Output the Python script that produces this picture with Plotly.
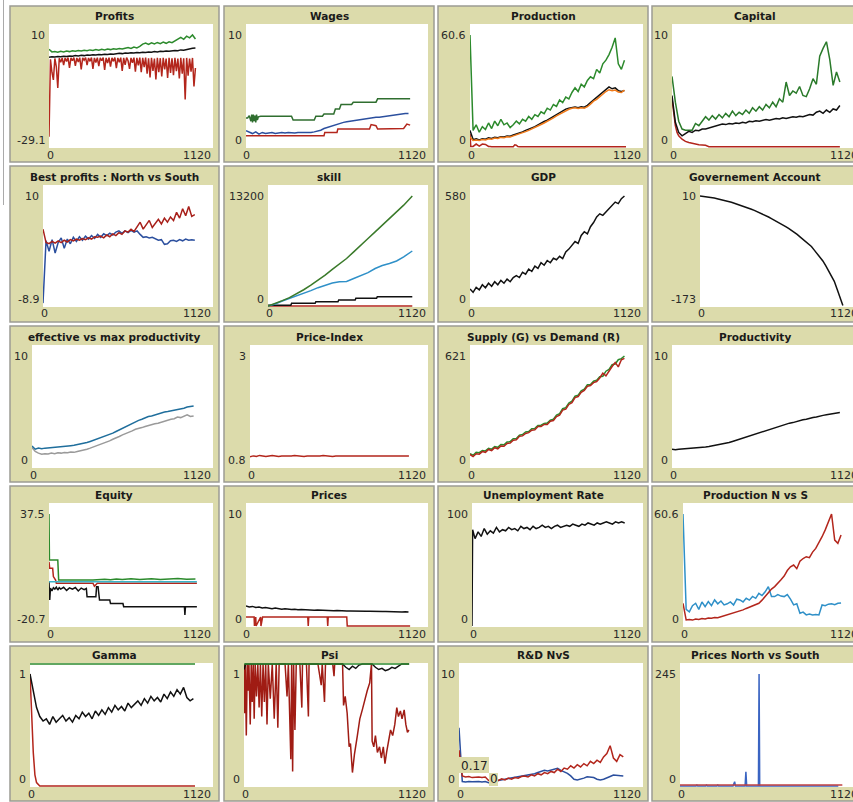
import plotly.graph_objects as go

W, H = 853, 802

# ---------------- data ----------------
X51 = [0, 20, 40, 60, 80, 100, 120, 140, 160, 180, 200, 220, 240, 260, 280, 300, 320, 340, 360, 380,
       400, 420, 440, 460, 480, 500, 520, 540, 560, 580, 600, 620, 640, 660, 680, 700, 720, 740, 760, 780,
       800, 820, 840, 860, 880, 900, 920, 940, 960, 980, 1000]
X101 = [0, 10, 20, 30, 40, 50, 60, 70, 80, 90, 100, 110, 120, 130, 140, 150, 160, 170, 180, 190,
        200, 210, 220, 230, 240, 250, 260, 270, 280, 290, 300, 310, 320, 330, 340, 350, 360, 370, 380, 390,
        400, 410, 420, 430, 440, 450, 460, 470, 480, 490, 500, 510, 520, 530, 540, 550, 560, 570, 580, 590,
        600, 610, 620, 630, 640, 650, 660, 670, 680, 690, 700, 710, 720, 730, 740, 750, 760, 770, 780, 790,
        800, 810, 820, 830, 840, 850, 860, 870, 880, 890, 900, 910, 920, 930, 940, 950, 960, 970, 980, 990, 1000]
X_TICKS = ["0", "1120"]

# Profits
PROF_GREEN = [5.0, 4.1, 4.2, 4.0, 4.3, 4.1, 4.4, 4.2, 4.5, 4.3, 4.6, 4.4, 4.7, 4.5, 4.8, 4.6, 4.9, 4.7, 5.0, 4.8,
              5.1, 4.9, 5.2, 5.0, 5.3, 5.1, 5.4, 5.6, 5.3, 5.8, 5.5, 6.0, 6.8, 7.2, 6.7, 7.3, 6.9, 7.4, 7.0, 7.5,
              7.1, 7.6, 7.3, 8.0, 8.6, 9.2, 8.5, 9.6, 9.0, 10.0, 8.6]
PROF_BLACK = [2.2, 2.4, 2.3, 2.5, 2.4, 2.6, 2.5, 2.7, 2.6, 2.8, 2.7, 2.9, 2.8, 3.0, 2.9, 3.1, 3.0, 3.2, 3.1, 3.3,
              3.2, 3.4, 3.3, 3.5, 3.6, 3.5, 3.7, 3.6, 3.8, 3.7, 3.9, 3.8, 4.0, 3.9, 4.1, 4.0, 4.2, 4.1, 4.3, 4.2,
              4.4, 4.3, 4.5, 4.6, 4.5, 4.8, 4.7, 5.0, 5.2, 5.4, 5.5]
PROF_RED = [-25.5, 1.5, -3, -5.7, 1.8, -1.0, -8.5, 1.9, 0.5, 2.0,
            -0.5, 2.0, 0.8, 2.1, -1.5, 2.0, 1.0, 2.1, -0.8, 2.0,
            0.6, 2.1, -2.0, 2.0, 1.2, 2.1, -0.5, 2.0, 0.8, 2.1,
            -1.8, 2.0, 0.4, 2.1, -0.9, 2.0, 1.0, 2.1, -2.2, 2.0,
            0.2, 2.1, -1.0, 2.0, 0.8, 2.1, -1.6, 2.0, 0.5, 2.1,
            -2.5, 2.0, -0.4, 2.1, 1.0, -1.8, 2.0, 0.3, 2.1, -2.8,
            2.0, -0.6, 2.1, -3.0, 2.0, -1.2, 2.1, -3.5, 1.9, -4.8,
            2.0, -2.5, 1.8, -5.5, 2.0, -3.0, 1.9, -4.5, 2.0, -2.0,
            1.8, -5.0, 2.0, -3.2, 1.9, -4.0, 2.0, -2.6, 1.8, -5.2,
            2.0, -3.5, 1.9, -12.5, 2.0, -4.2, 1.8, -2.8, 2.0, -8.0,
            -1.5]

# Wages
WAGE_GX = [0, 10, 20, 30, 35, 40, 45, 50, 55, 60, 65, 70, 76, 90, 280, 290, 420, 430, 470, 480,
           540, 550, 575, 585, 650, 660, 800, 810, 1010]
WAGE_GY = [2.6, 2.6, 2.8, 2.3, 2.9, 2.2, 2.9, 2.3, 2.8, 2.2, 2.9, 2.4, 2.7, 2.75, 2.75, 2.4, 2.4, 2.75, 2.75, 2.95,
           2.95, 3.4, 3.4, 3.8, 3.8, 4.0, 4.0, 4.3, 4.3]
WAGE_BLUE = [1.45, 1.3, 1.2, 1.35, 1.15, 1.3, 1.2, 1.25, 1.3, 1.2, 1.25, 1.3, 1.25, 1.3, 1.28, 1.25, 1.3, 1.3, 1.28, 1.32,
             1.3, 1.35, 1.4, 1.5, 1.65, 1.75, 1.8, 1.9, 2.0, 2.1, 2.2, 2.25, 2.3, 2.35, 2.4, 2.45, 2.5, 2.5, 2.55, 2.6,
             2.65, 2.65, 2.7, 2.75, 2.8, 2.85, 2.85, 2.9, 2.95, 3.0, 3.0]
WAGE_RX = [0, 480, 485, 560, 565, 760, 770, 800, 810, 970, 990, 1010]
WAGE_RY = [1.0, 1.0, 1.3, 1.3, 1.6, 1.6, 2.0, 1.9, 1.6, 1.65, 2.05, 1.95]

# Production
PROD_GREEN = [60.6, 9, 12, 8, 11, 9.5, 13, 10, 14, 11.5, 15, 12, 13, 10.5, 12, 14, 12.5, 15, 14, 16.5,
              15, 17.5, 16.5, 19, 18, 21, 20, 23, 22, 25.5, 24, 27, 26, 29.5, 32, 30, 34, 32.5, 36, 38,
              37, 42, 40, 45, 47, 50, 54, 59, 45, 42, 47]
PROD_BLACK = [9, 4, 4.5, 3.8, 4.5, 4.2, 5, 4.6, 5.3, 5, 5.6, 5.4, 6, 5.8, 6.5, 7, 7.5, 8.2, 9, 9.6,
              10.3, 11, 12, 13, 13.8, 14.5, 15.5, 16.5, 17.5, 18.5, 19.5, 20.5, 21, 21.5, 21.6, 21.2, 21.8, 21.5, 22.5, 24,
              25.5, 26.5, 28, 30, 31, 32.5, 31.5, 32, 30.5, 30, 30.5]
PROD_ORANGE = [5.4, 3.5, 3.8, 3.5, 4, 3.8, 4.4, 4.2, 4.8, 4.6, 5.2, 5, 5.5, 5.4, 6, 6.5, 7, 7.6, 8.3, 9,
               9.7, 10.4, 11.3, 12.2, 13, 13.8, 14.8, 15.8, 16.8, 17.8, 18.8, 19.8, 20.4, 21, 21.2, 20.8, 21.2, 21, 21.8, 23.2,
               24.8, 25.8, 27.2, 29, 30, 31, 30.5, 30.8, 29.8, 29.5, 30.8]
PROD_RX = [0, 5, 20, 40, 60, 80, 100, 120, 130, 140, 200, 280, 290, 300, 310, 320, 1010]
PROD_RY = [7, 0.3, 0.3, 1.6, 0.5, 1.6, 1.4, 0.3, 0.3, 0.2, 0.2, 0.2, 1.2, 1.0, 0.3, 0.1, 0.1]

# Capital
CAP_GREEN = [6.3, 4, 2.3, 1.6, 1.5, 1.5, 1.5, 2.1, 1.9, 2.3, 2.7, 2.4, 2.8, 2.5, 2.9, 2.6, 3.0, 2.7, 3.2, 2.8,
             3.1, 2.9, 3.3, 3.0, 3.5, 3.2, 3.6, 3.3, 3.8, 3.5, 4.0, 3.6, 4.3, 4.0, 5.8, 4.6, 5.0, 4.8, 5.4, 4.6,
             4.5, 5.2, 6.1, 5.6, 8.1, 8.8, 9.4, 7.8, 5.5, 6.7, 5.8]
CAP_BLACK = [4.6, 2.2, 1.3, 1.0, 1.2, 1.4, 1.3, 1.5, 1.45, 1.6, 1.6, 1.7, 1.8, 1.9, 2.0, 2.05, 2.0, 2.1, 2.05, 2.15,
             2.1, 2.2, 2.15, 2.3, 2.25, 2.35, 2.3, 2.4, 2.45, 2.4, 2.5, 2.55, 2.5, 2.6, 2.55, 2.65, 2.7, 2.65, 2.75, 2.7,
             2.8, 2.9, 2.85, 3.1, 3.2, 3.0, 3.3, 3.1, 3.4, 3.3, 3.7]
CAP_RX = [0, 10, 20, 30, 40, 60, 80, 100, 130, 160, 200, 220, 1000]
CAP_RY = [4.3, 3.0, 1.9, 1.3, 1.0, 0.7, 0.5, 0.4, 0.3, 0.2, 0.15, 0.03, 0.03]

# Best profits : North vs South
BP_BLUE = [-8.4, 2.3, 0.5, 2.5, 0.2, 2.0, 2.8, 1.0, 2.6, 1.8, 2.9, 2.2, 3.0, 2.4, 3.1, 2.6, 3.2, 2.7, 3.4, 2.9,
           3.5, 3.2, 3.6, 3.3, 3.8, 4.0, 3.6, 4.0, 3.7, 4.1, 3.8, 4.0, 3.4, 2.9, 3.0, 2.8, 2.9, 2.6, 2.4, 2.5,
           1.7, 1.8, 2.3, 2.4, 2.2, 2.5, 2.3, 2.6, 2.4, 2.5, 2.4]
BP_RED = [4.3, 2.0, 1.8, 2.2, 1.9, 2.3, 2.0, 2.4, 2.1, 2.5, 2.3, 2.6, 2.4, 2.7, 2.5, 2.8, 2.6, 3.0, 2.9, 3.1,
          2.8, 3.3, 3.0, 3.5, 3.2, 3.7, 3.4, 4.0, 3.8, 4.3, 3.9, 4.8, 5.5, 4.3, 5.0, 5.8, 4.6, 5.3, 6.0, 5.2,
          6.2, 5.5, 6.4, 5.8, 7.2, 6.2, 7.8, 6.6, 8.2, 6.5, 6.8]

# skill
SKILL_X = [0, 50, 100, 150, 200, 250, 300, 350, 400, 450, 500, 550, 600, 650, 700, 750, 800, 850, 900, 950, 1010]
SKILL_GREEN = [0, 300, 650, 1000, 1450, 1950, 2500, 3050, 3700, 4400, 5000, 5700, 6500, 7350, 8100, 8900, 9700,
               10500, 11300, 12100, 13200]
SKILL_BLUE = [0, 250, 600, 900, 1200, 1500, 1850, 2200, 2500, 2750, 2900, 2950, 3300, 3650, 4000, 4500, 4850,
              5100, 5400, 5900, 6600]
SKILL_KX = [0, 160, 165, 330, 335, 490, 495, 610, 615, 760, 765, 1010]
SKILL_KY = [100, 100, 320, 320, 520, 520, 720, 720, 920, 920, 1120, 1120]
SKILL_RX = [0, 1010]
SKILL_RY = [0, 0]

# GDP
GDP_BLACK = [90, 72, 98, 85, 112, 96, 120, 104, 128, 112, 135, 120, 142, 128, 150, 160, 150, 178, 168, 195,
             182, 210, 198, 228, 215, 240, 228, 252, 244, 262, 250, 285, 300, 322, 340, 330, 372, 392, 380, 418,
             440, 470, 486, 478, 497, 512, 530, 548, 540, 566, 580]

# Governement Account
GOV_BLACK = [10, 9.5, 9, 8.2, 7.5, 6.5, 5.5, 4.5, 3.5, 2.2, 1, -0.5, -2, -3.5, -5, -6.5, -8, -10, -12, -14,
             -16, -18, -20, -22.5, -25, -27.5, -30, -32.5, -35, -38, -41, -44, -47, -50, -54, -58, -62, -66, -70, -74,
             -80, -86, -92, -98, -106, -114, -122, -132, -145, -158, -172]

# effective vs max productivity
EFF_BLUE = [1.9, 1.6, 1.7, 1.65, 1.7, 1.72, 1.75, 1.78, 1.8, 1.82, 1.85, 1.9, 1.92, 1.95, 2.0, 2.05, 2.1, 2.2, 2.3, 2.4,
            2.5, 2.6, 2.7, 2.8, 2.95, 3.05, 3.2, 3.35, 3.5, 3.65, 3.8, 3.95, 4.1, 4.2, 4.3, 4.45, 4.55, 4.6, 4.7, 4.75,
            4.85, 4.95, 5.0, 5.05, 5.15, 5.2, 5.25, 5.3, 5.4, 5.45, 5.5]
EFF_GRAY = [1.75, 1.4, 1.25, 1.15, 1.2, 1.18, 1.25, 1.2, 1.28, 1.25, 1.3, 1.28, 1.35, 1.32, 1.4, 1.45, 1.5, 1.6, 1.7, 1.8,
            1.9, 2.0, 2.1, 2.2, 2.35, 2.5, 2.6, 2.75, 2.9, 3.0, 3.15, 3.25, 3.4, 3.45, 3.55, 3.65, 3.75, 3.8, 3.9, 3.95,
            4.05, 4.1, 4.2, 4.3, 4.35, 4.5, 4.45, 4.6, 4.7, 4.55, 4.6]

# Price-Index
PI_RED = [1.0, 1.02, 1.01, 1.03, 1.02, 1.01, 1.02, 1.03, 1.02, 1.01, 1.02, 1.02, 1.01, 1.02, 1.03, 1.02, 1.02, 1.01, 1.02, 1.02,
          1.01, 1.02, 1.02, 1.03, 1.02, 1.02, 1.01, 1.02, 1.02, 1.02, 1.01, 1.02, 1.02, 1.01, 1.02, 1.02, 1.02, 1.01, 1.02, 1.02,
          1.01, 1.02, 1.02, 1.02, 1.01, 1.02, 1.02, 1.01, 1.02, 1.02, 1.02]

# Supply (G) vs Demand (R)
SUP_GREEN = [75, 66, 82, 80, 92, 90, 104, 100, 114, 110, 126, 124, 140, 142, 158, 160, 178, 182, 196, 198,
             214, 216, 232, 234, 244, 246, 262, 268, 290, 298, 326, 332, 358, 368, 396, 402, 426, 436, 460, 462,
             480, 486, 505, 508, 536, 546, 572, 576, 600, 606, 621]
SUP_RED = [70, 58, 74, 72, 86, 82, 98, 92, 108, 102, 118, 116, 132, 134, 150, 152, 172, 174, 188, 192,
           206, 208, 226, 226, 238, 238, 256, 260, 282, 290, 318, 324, 350, 360, 388, 394, 418, 428, 452, 456,
           472, 478, 498, 525, 510, 540, 562, 585, 560, 600, 608]

# Productivity
PRODUCTIVITY = [1.6, 1.55, 1.6, 1.62, 1.65, 1.68, 1.7, 1.72, 1.75, 1.78, 1.8, 1.85, 1.9, 1.95, 2.0, 2.05, 2.1, 2.2, 2.3, 2.4,
                2.5, 2.6, 2.7, 2.8, 2.9, 3.0, 3.1, 3.2, 3.3, 3.4, 3.5, 3.6, 3.7, 3.75, 3.85, 3.95, 4.0, 4.1, 4.15, 4.25,
                4.3, 4.4, 4.45, 4.5, 4.6, 4.65, 4.7, 4.75, 4.8, 4.85, 4.9]

# Equity
EQ_GX = [0, 3, 60, 66, 300, 380, 420, 460, 500, 560, 620, 700, 760, 820, 880, 940, 1000]
EQ_GY = [37.5, 13.6, 13.6, 3.2, 3.2, 3.6, 3.3, 3.7, 3.4, 3.8, 3.4, 3.9, 3.5, 3.9, 4.0, 3.6, 3.7]
EQ_RX = [0, 5, 25, 30, 45, 50, 300, 310, 330, 1010]
EQ_RY = [12.7, 9.3, 9.3, 5, 3.2, 1.5, 1.5, 0, 1.5, 1.5]
EQ_CX = [0, 1010]
EQ_CY = [2.3, 2.3]
EQ_KX = [0, 5, 10, 20, 30, 40, 50, 60, 70, 80, 100, 120, 140, 160, 180, 200, 220, 240, 255, 260,
         320, 325, 335, 340, 345, 415, 420, 505, 510, 925, 928, 932, 1010]
EQ_KY = [2.3, -7.2, -1, -2.5, -0.8, -1.5, -0.5, -2, -0.8, -1.5, -0.6, -2.2, -0.9, -1.6, -0.7, -2.5, -1.0, -1.8, -1.2, -5.5,
         -5.5, -0.3, -0.3, -5.5, -7.2, -7.2, -9.0, -9.0, -10.7, -10.7, -15, -10.7, -10.7]

# Prices
PR_BLACK = [1.8, 1.7, 1.75, 1.65, 1.7, 1.6, 1.65, 1.6, 1.55, 1.6, 1.55, 1.5, 1.55, 1.5, 1.48, 1.5, 1.45, 1.48, 1.45, 1.42,
            1.45, 1.4, 1.42, 1.4, 1.38, 1.4, 1.38, 1.36, 1.38, 1.35, 1.36, 1.34, 1.35, 1.33, 1.34, 1.32, 1.33, 1.31, 1.32, 1.3,
            1.31, 1.3, 1.29, 1.3, 1.28, 1.29, 1.27, 1.28, 1.26, 1.27, 1.25]
PR_RX = [0, 50, 52, 60, 62, 90, 92, 100, 102, 380, 383, 386, 500, 503, 506, 620, 623, 1010]
PR_RY = [0.8, 0.8, 0, 0.8, 0, 0.8, 0, 0.8, 0.8, 0.8, 0, 0.8, 0.8, 0, 0.8, 0.8, 0, 0]

# Unemployment Rate
U_X = [0, 4, 20, 40, 60, 80, 100, 120, 140, 160, 180, 200, 220, 240, 260, 280, 300, 320, 340, 360, 380,
       400, 420, 440, 460, 480, 500, 520, 540, 560, 580, 600, 620, 640, 660, 680, 700, 720, 740, 760, 780,
       800, 820, 840, 860, 880, 900, 920, 940, 960, 980, 1000]
U_Y = [0, 86, 78, 84, 80, 87, 82, 85, 83, 88, 84, 86, 85, 88, 86, 87, 85, 89, 87, 88,
       86, 89, 87, 88, 90, 88, 89, 87, 89, 90, 88, 89, 90, 89, 91, 90, 89, 91, 90, 92,
       91, 90, 92, 91, 92, 93, 92, 91, 93, 92, 93, 92]

# Production N vs S
PNS_BLUE = [60.6, 9, 7.7, 11, 12.3, 9, 13, 10.5, 13.2, 11, 14.1, 12, 13.5, 11.4, 12, 13, 11.4, 14.5, 14.1, 13,
            15, 14, 16, 15, 17.7, 16.5, 18.5, 21.3, 16, 15.9, 17, 16.2, 15.9, 17, 14.5, 11.4, 12, 6.9, 7.5, 6.0,
            6.5, 6.0, 6.2, 6.0, 11.4, 11, 11.8, 12, 11.5, 12.3, 12.5]
PNS_RED = [12.3, 3.3, 3.5, 3.2, 3.8, 3.5, 4, 3.8, 4.3, 4.2, 4.6, 4.5, 5.0, 5.5, 6.0, 6.3, 6.8, 7.5, 8.2, 8.7,
           9.5, 10.2, 11, 11.8, 12.3, 14, 16, 18, 20, 21.3, 23, 25, 27, 30, 32, 33, 31, 35, 36.5, 37.5,
           37, 40, 42, 45, 48.3, 52, 56, 60.6, 46.5, 44.7, 49.2]

# Gamma
GAM_BLACK = [1.0, 0.85, 0.7, 0.62, 0.58, 0.6, 0.55, 0.62, 0.57, 0.6, 0.63, 0.58, 0.61, 0.57, 0.63, 0.6, 0.66, 0.62, 0.65, 0.6,
             0.67, 0.63, 0.68, 0.64, 0.7, 0.66, 0.72, 0.68, 0.71, 0.67, 0.74, 0.7, 0.73, 0.76, 0.72, 0.78, 0.74, 0.8, 0.76, 0.79,
             0.75, 0.82, 0.78, 0.84, 0.8, 0.86, 0.82, 0.88, 0.79, 0.76, 0.78]
GAM_GX = [0, 1010]
GAM_GY = [1.09, 1.09]
GAM_RX = [0, 10, 20, 30, 40, 60, 1010]
GAM_RY = [1.0, 0.6, 0.3, 0.1, 0.03, 0, 0]

# Psi
PSI_GX = [0, 1005]
PSI_GY = [1.09, 1.09]
PSI_KX = [0, 10, 20, 600, 620, 640, 660, 680, 700, 720, 740, 760, 780, 800, 820, 840, 860, 880, 900, 920, 940, 960, 980, 1005]
PSI_KY = [1.04, 1.09, 1.09, 1.09, 1.06, 1.04, 1.07, 1.05, 1.08, 1.09, 1.09, 1.09, 1.09, 1.06, 1.04, 1.05, 1.03, 1.04, 1.06, 1.05,
          1.07, 1.09, 1.09, 1.09]
PSI_RX = [0, 4, 8, 14, 20, 26, 30, 38, 44, 50, 56, 62, 68, 76, 84, 92, 100, 108, 116, 124,
          132, 140, 148, 160, 172, 184, 196, 206, 214, 250, 262, 270, 285, 290, 296, 302, 310, 318, 340, 352,
          356, 380, 392, 396, 450, 470, 476, 490, 496, 540, 548, 552, 600, 606, 616, 628, 640, 648, 660, 672,
          690, 705, 720, 735, 750, 765, 776, 780, 790, 800, 812, 825, 836, 848, 858, 868, 880, 892, 905, 918,
          930, 940, 952, 962, 975, 985, 995, 1004]
PSI_RY = [1.09, 0.65, 1.09, 0.45, 1.09, 0.85, 1.09, 0.55, 1.09, 0.75, 1.09, 0.6, 1.09, 0.8, 1.09, 0.7, 1.09, 0.62, 1.09, 0.75,
          1.09, 0.55, 1.09, 0.78, 1.09, 0.6, 1.09, 0.52, 1.09, 1.09, 0.8, 1.09, 0.24, 1.09, 0.13, 1.09, 0.5, 1.09, 1.09, 0.7,
          1.09, 1.09, 0.62, 1.09, 1.09, 0.9, 1.09, 0.75, 1.09, 1.09, 0.98, 1.09, 1.09, 0.72, 0.8, 0.65, 0.35, 0.38, 0.12, 0.28,
          0.45, 0.6, 0.68, 0.78, 0.85, 0.92, 1.09, 0.4, 0.35, 0.45, 0.3, 0.35, 0.25, 0.35, 0.2, 0.3, 0.4, 0.5, 0.45, 0.55,
          0.7, 0.62, 0.67, 0.6, 0.68, 0.55, 0.48, 0.5]

# R&D NvS
RD_RED = [3.2, 0.9, 0.8, 0.85, 0.75, 0.8, 0.8, 0.75, 0.8, 0.5, 0.55, 0.6, 0.5, 0.65, 0.55, 0.7, 0.6, 0.75, 0.7, 0.85,
          0.9, 0.8, 1.0, 0.9, 1.1, 1.0, 1.2, 1.1, 1.3, 1.2, 1.5, 1.3, 1.6, 1.5, 1.8, 1.6, 1.9, 1.7, 2.0, 1.8,
          2.2, 2.0, 2.3, 2.1, 2.6, 2.9, 3.6, 2.5, 2.2, 2.8, 2.6]
RD_BLUE = [5.2, 0.4, 0.35, 0.4, 0.38, 0.4, 0.4, 0.35, 0.4, 0.3, 0.4, 0.45, 0.5, 0.55, 0.6, 0.7, 0.75, 0.8, 0.85, 0.9,
           0.95, 1.0, 1.05, 1.1, 1.2, 1.3, 1.4, 1.35, 1.45, 1.5, 1.58, 1.4, 1.3, 1.13, 0.9, 0.6, 0.54, 0.6, 0.7, 0.83,
           0.8, 0.75, 0.6, 0.54, 0.6, 0.7, 0.85, 0.98, 0.95, 0.9, 0.9]
RD_INSET_TEXT = ["0.17", "0"]

# Prices North vs South
PNSP_BX = [0, 100, 105, 110, 160, 165, 170, 230, 235, 240, 330, 340, 345, 405, 410, 415, 488, 492, 496, 985]
PNSP_BY = [0, 0, 2, 0, 0, 2, 0, 0, 2, 0, 0, 9.5, 0, 0, 31, 0, 0, 245, 0, 0]
PNSP_RX = [0, 1010]
PNSP_RY = [2.2, 2.2]

# ---------------- styling ----------------
GREEN = "#2c8a2c"
RED = "#b3261c"
BLACK = "#111111"
BLUE = "#2b4f9e"
SKY = "#2f90c8"
TEAL = "#1f6e9c"
GRAY = "#9a9a9a"
ORANGE = "#f07a1a"
CYAN = "#3ab4c8"
PBLUE = "#3a64c2"
KHAKI = "#dcdbab"

COLS = [(10, 219), (224, 434), (438, 648), (652, 860)]
ROWS = [(6, 162), (166, 322), (326, 482), (486, 642), (646, 801)]
PLOT_TB = [(24, 148), (185, 307), (345, 468), (503, 627), (663, 787)]
PLOT_R = [213, 428, 643, 860]

panels = [
    ("Profits", 0, 0, 49, -29.1, 10, ["-29.1", "10"],
     [(X101, PROF_RED, RED), (X51, PROF_GREEN, GREEN), (X51, PROF_BLACK, BLACK)]),
    ("Wages", 0, 1, 246, 0, 10, ["0", "10"],
     [(WAGE_GX, WAGE_GY, "#2f6e2f"), (X51, WAGE_BLUE, BLUE), (WAGE_RX, WAGE_RY, RED)]),
    ("Production", 0, 2, 470, 0, 60.6, ["0", "60.6"],
     [(PROD_RX, PROD_RY, RED), (X51, PROD_GREEN, GREEN), (X51, PROD_BLACK, BLACK), (X51, PROD_ORANGE, ORANGE)]),
    ("Capital", 0, 3, 672, 0, 10, ["0", "10"],
     [(CAP_RX, CAP_RY, RED), (X51, CAP_GREEN, "#2a7a2a"), (X51, CAP_BLACK, BLACK)]),
    ("Best profits : North vs South", 1, 0, 43, -8.9, 10, ["-8.9", "10"],
     [(X51, BP_BLUE, BLUE), (X51, BP_RED, "#a8201a")]),
    ("skill", 1, 1, 268, 0, 13200, ["0", "13200"],
     [(SKILL_RX, SKILL_RY, RED), (SKILL_KX, SKILL_KY, BLACK), (SKILL_X, SKILL_BLUE, SKY), (SKILL_X, SKILL_GREEN, "#3a7a2a")]),
    ("GDP", 1, 2, 470, 0, 580, ["0", "580"],
     [(X51, GDP_BLACK, BLACK)]),
    ("Governement Account", 1, 3, 700, -173, 10, ["-173", "10"],
     [(X51, GOV_BLACK, BLACK)]),
    ("effective vs max productivity", 2, 0, 32, 0, 10, ["0", "10"],
     [(X51, EFF_GRAY, GRAY), (X51, EFF_BLUE, TEAL)]),
    ("Price-Index", 2, 1, 250, 0.8, 3, ["0.8", "3"],
     [(X51, PI_RED, RED)]),
    ("Supply (G) vs Demand (R)", 2, 2, 470, 0, 621, ["0", "621"],
     [(X51, SUP_GREEN, GREEN), (X51, SUP_RED, RED)]),
    ("Productivity", 2, 3, 672, 0, 10, ["0", "10"],
     [(X51, PRODUCTIVITY, BLACK)]),
    ("Equity", 3, 0, 49, -20.7, 37.5, ["-20.7", "37.5"],
     [(EQ_KX, EQ_KY, BLACK), (EQ_RX, EQ_RY, RED), (EQ_CX, EQ_CY, CYAN), (EQ_GX, EQ_GY, GREEN)]),
    ("Prices", 3, 1, 246, 0, 10, ["0", "10"],
     [(PR_RX, PR_RY, RED), (X51, PR_BLACK, BLACK)]),
    ("Unemployment Rate", 3, 2, 472, 0, 100, ["0", "100"],
     [(U_X, U_Y, BLACK)]),
    ("Production N vs S", 3, 3, 683, 0, 60.6, ["0", "60.6"],
     [(X51, PNS_BLUE, SKY), (X51, PNS_RED, RED)]),
    ("Gamma", 4, 0, 30, 0, 1, ["0", "1"],
     [(GAM_GX, GAM_GY, GREEN), (GAM_RX, GAM_RY, RED), (X51, GAM_BLACK, BLACK)]),
    ("Psi", 4, 1, 244, 0, 1, ["0", "1"],
     [(PSI_RX, PSI_RY, "#a01c14"), (PSI_KX, PSI_KY, BLACK), (PSI_GX, PSI_GY, GREEN)]),
    ("R&D NvS", 4, 2, 459, 0, 10, ["0", "10"],
     [(X51, RD_BLUE, BLUE), (X51, RD_RED, RED)]),
    ("Prices North vs South", 4, 3, 680, 0, 245, ["0", "245"],
     [(PNSP_BX, PNSP_BY, PBLUE), (PNSP_RX, PNSP_RY, "#c04040")]),
]


def fx(p):
    return p / W


def fy(p):
    return 1 - p / H


fig = go.Figure()
shapes = []
annotations = []
layout_axes = {}
TEXT_FONT = dict(family="DejaVu Sans", size=11, color="#2a2a2a")

for i, (title, r, c, left, ymin, ymax, ylabs, series) in enumerate(panels):
    n = i + 1
    xa = "x" if n == 1 else f"x{n}"
    ya = "y" if n == 1 else f"y{n}"
    top, bottom = PLOT_TB[r]
    right = PLOT_R[c]
    cx0, cx1 = COLS[c]
    ry0, ry1 = ROWS[r]
    shapes.append(dict(type="rect", xref="paper", yref="paper", x0=fx(cx0), x1=fx(cx1), y0=fy(ry1), y1=fy(ry0),
                       fillcolor=KHAKI, line=dict(color="#9c9c94", width=1.5), layer="below"))
    shapes.append(dict(type="rect", xref="paper", yref="paper", x0=fx(left), x1=fx(right), y0=fy(bottom), y1=fy(top),
                       fillcolor="white", line=dict(width=0), layer="below"))
    span = ymax - ymin
    pxspan = bottom - top - 12
    lo = ymin - span * 1 / pxspan
    hi = ymax + span * 11 / pxspan
    dom_r = min(right, W)
    xhi = 1120 * (dom_r - left) / (right - left)
    layout_axes["xaxis" if n == 1 else f"xaxis{n}"] = dict(
        domain=[fx(left), fx(dom_r)], range=[0, xhi], anchor=ya, visible=False, fixedrange=True)
    layout_axes["yaxis" if n == 1 else f"yaxis{n}"] = dict(
        domain=[fy(bottom), fy(top)], range=[lo, hi], anchor=xa, visible=False, fixedrange=True)
    for xs, ys, col in series:
        fig.add_trace(go.Scatter(x=xs, y=ys, mode="lines", line=dict(color=col, width=1.5),
                                 xaxis=xa, yaxis=ya, hoverinfo="skip", showlegend=False))
    annotations.append(dict(text=title, xref="paper", yref="paper", x=fx((cx0 + min(cx1, 858)) / 2), y=fy(top - 8),
                            xanchor="center", yanchor="middle", showarrow=False,
                            font=dict(family="DejaVu Sans", size=10.5, color="#1a1a1a", weight="bold")))
    annotations.append(dict(text=ylabs[1], xref="paper", yref=ya, x=fx(left - 2), y=ymax, xanchor="right",
                            yanchor="middle", showarrow=False, font=TEXT_FONT))
    annotations.append(dict(text=ylabs[0], xref="paper", yref=ya, x=fx(left - 2), y=ymin, xanchor="right",
                            yanchor="bottom", showarrow=False, font=TEXT_FONT, yshift=-2))
    annotations.append(dict(text=X_TICKS[0], xref="paper", yref="paper", x=fx(left + 1), y=fy(bottom + 7),
                            xanchor="center", yanchor="middle", showarrow=False, font=TEXT_FONT))
    annotations.append(dict(text=X_TICKS[1], xref="paper", yref="paper", x=fx(right), y=fy(bottom + 7),
                            xanchor="right", yanchor="middle", showarrow=False, font=TEXT_FONT))

# R&D NvS inset label boxes
shapes.append(dict(type="rect", xref="paper", yref="paper", x0=fx(459), x1=fx(489), y0=fy(773), y1=fy(757),
                   fillcolor=KHAKI, line=dict(width=0), layer="above"))
shapes.append(dict(type="rect", xref="paper", yref="paper", x0=fx(489), x1=fx(498), y0=fy(786), y1=fy(773),
                   fillcolor=KHAKI, line=dict(width=0), layer="above"))
annotations.append(dict(text=RD_INSET_TEXT[0], xref="paper", yref="paper", x=fx(474), y=fy(766), xanchor="center",
                        yanchor="middle", showarrow=False, font=dict(family="DejaVu Sans", size=12, color="#222")))
annotations.append(dict(text=RD_INSET_TEXT[1], xref="paper", yref="paper", x=fx(494), y=fy(779), xanchor="center",
                        yanchor="middle", showarrow=False, font=dict(family="DejaVu Sans", size=12, color="#222")))
shapes.append(dict(type="line", xref="paper", yref="paper", x0=fx(3.5), x1=fx(3.5), y0=fy(205), y1=fy(0),
                   line=dict(color="#aaaaaa", width=1)))

fig.update_layout(width=W, height=H, margin=dict(l=0, r=0, t=0, b=0), paper_bgcolor="white",
                  plot_bgcolor="rgba(0,0,0,0)", shapes=shapes, annotations=annotations, showlegend=False,
                  **layout_axes)
fig.write_html("out.html", config={"displayModeBar": False},
               post_script="document.body.style.margin='0px';document.body.style.overflow='hidden';")
